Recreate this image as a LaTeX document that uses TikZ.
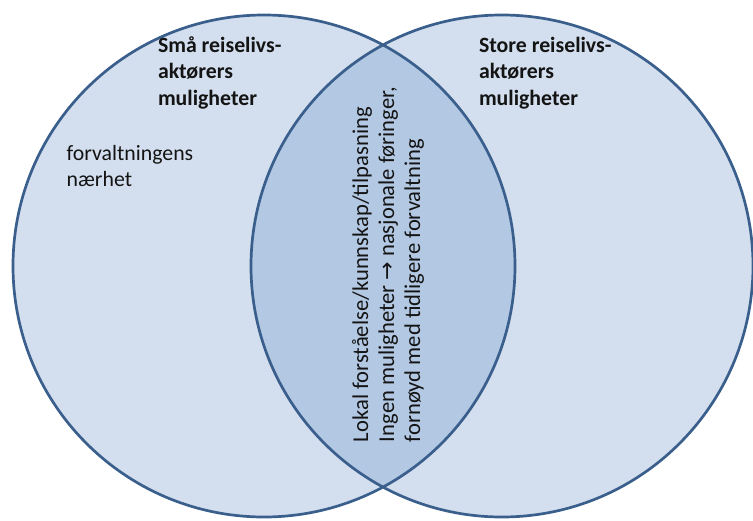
\documentclass[tikz,border=0pt]{standalone}
\usepackage{fontspec}
\setmainfont{Carlito}
\newfontfamily\symbolfont{DejaVu Sans}
\definecolor{setfill}{RGB}{211,223,238}
\definecolor{overlapfill}{RGB}{179,200,227}
\definecolor{setedge}{RGB}{58,95,140}
\definecolor{labeltext}{RGB}{20,20,20}
\begin{document}
\begin{tikzpicture}[x=1pt,y=-1pt,
  setcircle/.style={circle,minimum size=502pt,inner sep=0pt,outer sep=0pt},
  edge/.style={draw=setedge,line width=2.7pt},
  label/.style={inner sep=0pt,outer sep=0pt,text=labeltext,align=left,
    font=\fontsize{21.8}{26.5}\selectfont},
  title/.style={label,font=\bfseries\fontsize{21.8}{26.2}\selectfont}]
  \useasboundingbox (0,0) rectangle (753,520);
  % the two sets
  \node[setcircle,fill=setfill] (small) at (264,266) {};
  \node[setcircle,fill=setfill] (large) at (502,266) {};
  % shared region
  \begin{scope}
    \clip (264,266) circle[radius=251];
    \fill[overlapfill] (502,266) circle[radius=251];
  \end{scope}
  % outlines
  \draw[edge] (small.center) circle[radius=251];
  \draw[edge] (large.center) circle[radius=251];
  % labels (anchored at the baseline of their last line)
  \node[title,anchor=base west] (smalltitle) at (158,105)
    {Små reiselivs-\\aktørers\\muligheter};
  \node[title,anchor=base west] (largetitle) at (479,105)
    {Store reiselivs-\\aktørers\\muligheter};
  \node[label,anchor=base west] (nearness) at (66.7,186.7)
    {forvaltningens\\nærhet};
  \node[label,anchor=base west,rotate=90,font=\fontsize{22.6}{26}\selectfont]
    (shared) at (420,442)
    {Lokal forståelse/kunnskap/tilpasning\\
     Ingen muligheter {\symbolfont\fontsize{22}{26}\selectfont →} nasjonale føringer,\\
     fornøyd med tidligere forvaltning};
\end{tikzpicture}
\end{document}
